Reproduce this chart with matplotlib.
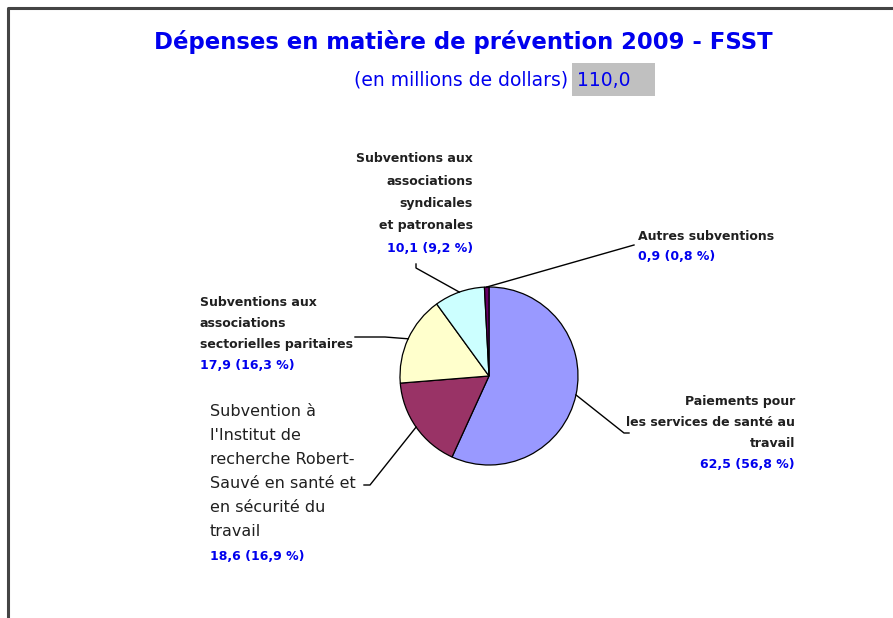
import numpy as np
import matplotlib
matplotlib.use('Agg')
import matplotlib.pyplot as plt
from matplotlib.patches import Rectangle

# donnees
categories = [
    "Paiements pour\nles services de santé au\ntravail",
    "Subvention à\nl'Institut de\nrecherche Robert-\nSauvé en santé et\nen sécurité du\ntravail",
    "Subventions aux\nassociations\nsectorielles paritaires",
    "Subventions aux\nassociations\nsyndicales\net patronales",
    "Autres subventions",
]
valeurs = [62.5, 18.6, 17.9, 10.1, 0.9]
pourcentages = ["56,8", "16,9", "16,3", "9,2", "0,8"]
total = "110,0"
couleurs = ["#9999FF", "#993366", "#FFFFCC", "#CCFFFF", "#660066"]

W, H = 893, 618
fig = plt.figure(figsize=(W / 100, H / 100), dpi=100)
ax = fig.add_axes([0, 0, 1, 1])

cx, cy, r = 489, 376, 89
ax.pie(valeurs, colors=couleurs, startangle=-90, counterclock=True,
       center=(cx, cy), radius=r,
       wedgeprops=dict(edgecolor='black', linewidth=0.9))
ax.set_xlim(0, W)
ax.set_ylim(H, 0)
ax.set_aspect('equal')
ax.set_axis_off()

# cadre
ax.plot([8, 8, W + 5], [H + 5, 8, 8], color='#444444', lw=2.2, solid_capstyle='butt')

blue = '#0000EE'
ax.text(463, 42, "Dépenses en matière de prévention 2009 - FSST", color=blue,
        fontsize=16.4, fontweight='bold', family='DejaVu Sans', ha='center', va='center')
ax.text(568, 80, "(en millions de dollars)", color=blue, fontsize=13.5,
        family='DejaVu Sans', ha='right', va='center')
ax.add_patch(Rectangle((572, 63), 83, 33, facecolor='#C0C0C0', edgecolor='none'))
ax.text(577, 80, total, color=blue, fontsize=13.5, family='DejaVu Sans', ha='left', va='center')

# positions des etiquettes (layout)
lab_pos = [(795, 402, 'right', 20.7, 9), (210, 412, 'left', 24, 11.5),
           (200, 302, 'left', 21.3, 9), (473, 159, 'right', 22.3, 9), (638, 236, 'left', 21, 9)]
leader = [[(624, 433), (629, 433)], [(370, 485), (364, 485)],
          [(385, 337), (355, 337)], [(416, 268), (416, 264)], [(634, 245)]]

cum = np.cumsum([0] + valeurs[:-1])
tot = sum(valeurs)
for i, v in enumerate(valeurs):
    theta = np.deg2rad(-90 + (cum[i] + v / 2) / tot * 360)
    x0, y0 = cx + r * np.cos(theta), cy + r * np.sin(theta)
    pts = [(x0, y0)] + leader[i]
    ax.plot([p[0] for p in pts], [p[1] for p in pts], color='black', lw=1)

    x, y, ha, sp, fs = lab_pos[i]
    lines = categories[i].split("\n")
    if fs > 10:
        kw = dict(family='DejaVu Sans')
    else:
        kw = dict(family='DejaVu Sans', fontweight='bold')
    for j, ln in enumerate(lines):
        ax.text(x, y + j * sp, ln, ha=ha, va='center', fontsize=fs, color='#202020', **kw)
    val = f"{v:.1f}".replace('.', ',') + f" ({pourcentages[i]} %)"
    ax.text(x, y + len(lines) * sp, val, ha=ha, va='center', fontsize=9,
            fontweight='bold', family='DejaVu Sans', color=blue)

fig.savefig('out.png', dpi=100)
